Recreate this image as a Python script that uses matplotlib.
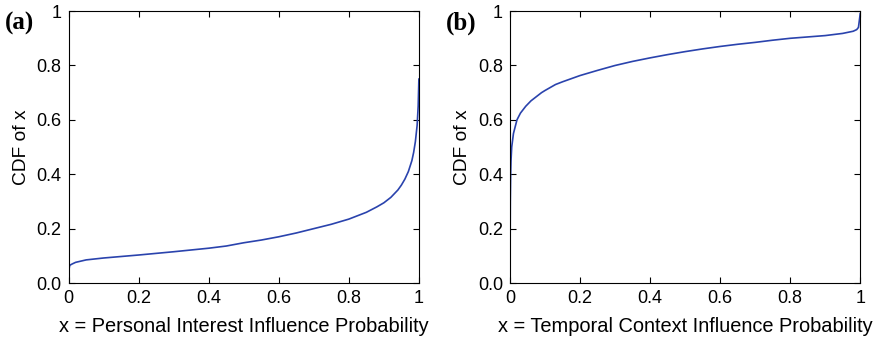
import matplotlib
matplotlib.use("Agg")
from matplotlib import pyplot as plt  # noqa: E402

# values
x_a = [0.0, 0.001, 0.003, 0.01, 0.02, 0.05, 0.1, 0.2, 0.3, 0.4, 0.45, 0.5, 0.55, 0.6,
       0.65, 0.7, 0.75, 0.8, 0.85, 0.88, 0.9, 0.92, 0.94, 0.95, 0.96, 0.97, 0.98,
       0.985, 0.99, 0.995, 0.998, 1.0]
cdf_a = [0.0, 0.05, 0.065, 0.07, 0.076, 0.085, 0.092, 0.103, 0.115, 0.128, 0.136, 0.148,
         0.158, 0.17, 0.184, 0.2, 0.216, 0.235, 0.26, 0.28, 0.295, 0.315, 0.342, 0.36,
         0.382, 0.41, 0.45, 0.48, 0.52, 0.58, 0.65, 0.75]

x_b = [0.0, 0.001, 0.002, 0.003, 0.005, 0.007, 0.01, 0.015, 0.02, 0.03, 0.045, 0.06,
       0.09, 0.1, 0.13, 0.15, 0.2, 0.25, 0.3, 0.35, 0.4, 0.45, 0.5, 0.55, 0.6, 0.65,
       0.7, 0.75, 0.8, 0.85, 0.9, 0.95, 0.98, 0.99, 0.995, 1.0]
cdf_b = [0.0, 0.3, 0.4, 0.45, 0.5, 0.52, 0.55, 0.575, 0.6, 0.625, 0.65, 0.67,
         0.7, 0.708, 0.73, 0.74, 0.763, 0.782, 0.8, 0.815, 0.828, 0.84, 0.851, 0.861,
         0.87, 0.878, 0.885, 0.893, 0.9, 0.905, 0.91, 0.918, 0.926, 0.932, 0.94, 0.99]

x_ticks = [0, 0.2, 0.4, 0.6, 0.8, 1]
x_ticklabels = ["0", "0.2", "0.4", "0.6", "0.8", "1"]
y_ticks = [0, 0.2, 0.4, 0.6, 0.8, 1]
y_ticklabels = ["0.0", "0.2", "0.4", "0.6", "0.8", "1"]

panels = [
    ("(a)", x_a, cdf_a, "x = Personal Interest Influence Probability"),
    ("(b)", x_b, cdf_b, "x = Temporal Context Influence Probability"),
]

plt.rcParams["font.family"] = ["Liberation Sans", "DejaVu Sans"]
fig = plt.figure(figsize=(8.8, 3.42), dpi=100)
lefts = [0.078, 0.5795]

for left, (tag, xs, ys, xlabel) in zip(lefts, panels):
    ax = fig.add_axes([left, 0.1725, 0.398, 0.795])
    ax.plot(xs, ys, color="#2a43ad", lw=1.2)
    ax.set_xlim(0, 1)
    ax.set_ylim(0, 1)
    ax.set_xticks(x_ticks)
    ax.set_xticklabels(x_ticklabels)
    ax.set_yticks(y_ticks)
    ax.set_yticklabels(y_ticklabels)
    ax.tick_params(direction="in", length=4, width=0.8, top=True, right=True,
                   labelsize=13, pad=5)
    for sp in ax.spines.values():
        sp.set_linewidth(0.8)
    ax.set_xlabel(xlabel, fontsize=14.4, labelpad=7)
    ax.set_ylabel("CDF of x", fontsize=13.8, labelpad=5)
    fig.text(left - 0.073, 0.965, tag, fontsize=18, fontweight="bold",
             family="Liberation Serif", va="top")

fig.savefig("out.png", dpi=100)
